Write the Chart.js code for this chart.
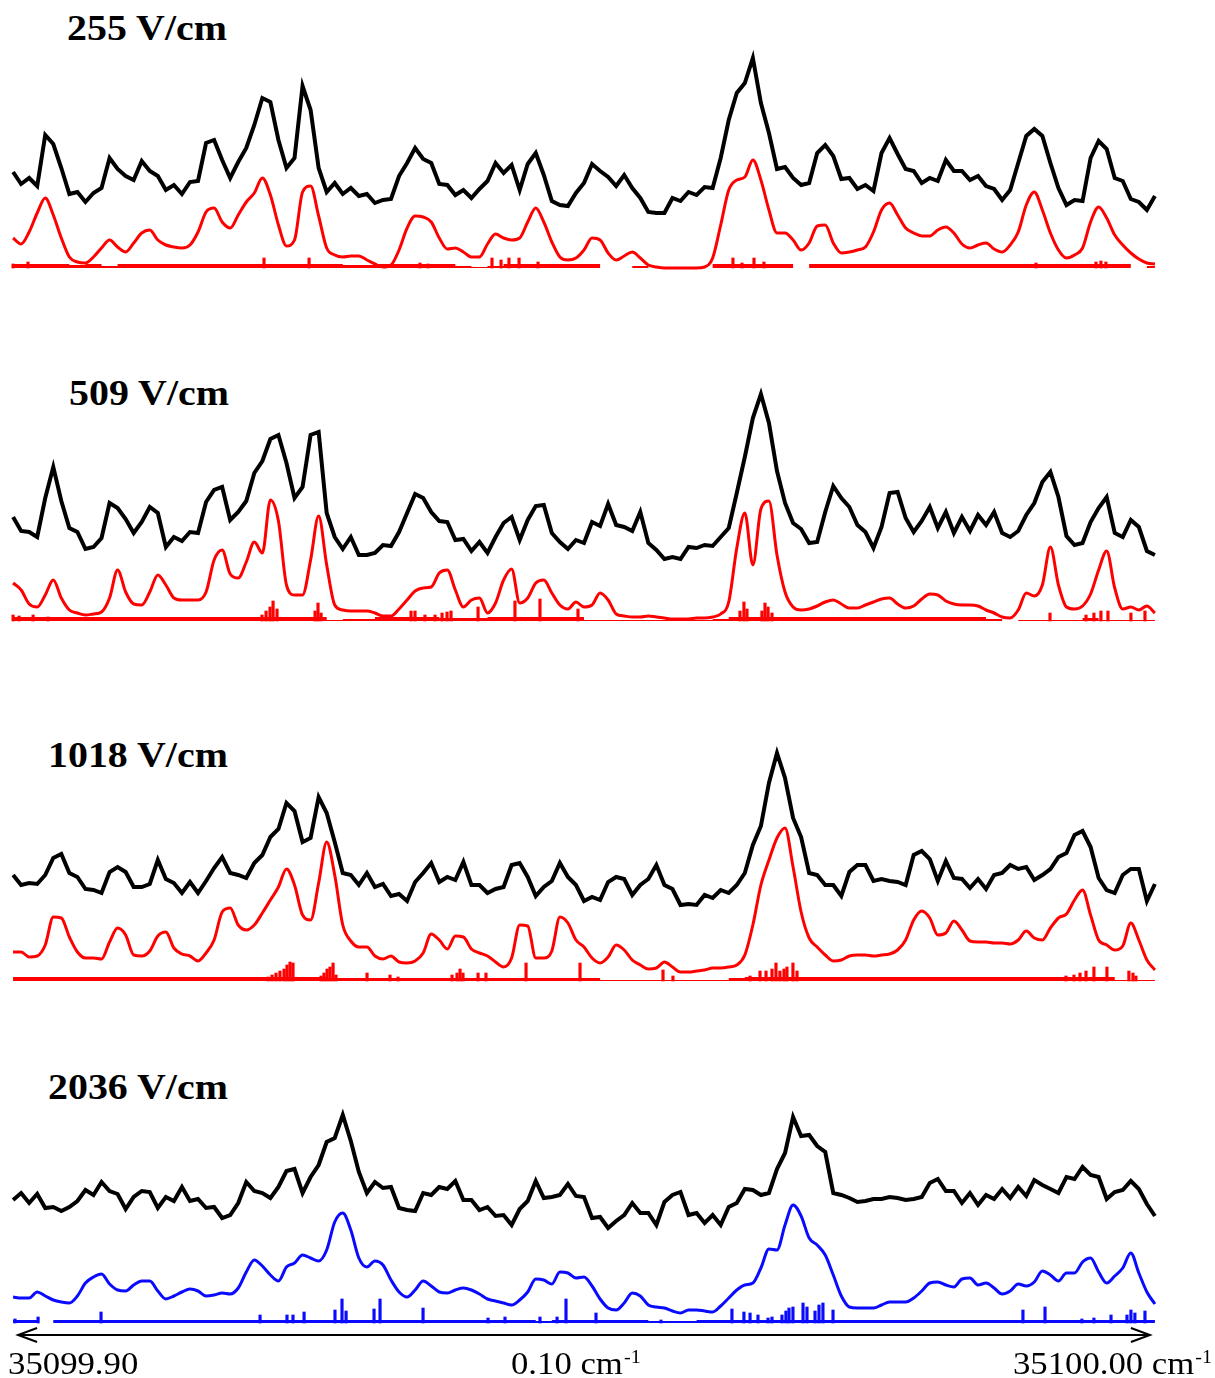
<!DOCTYPE html>
<html>
<head>
<meta charset="utf-8">
<script src="https://cdn.jsdelivr.net/npm/chart.js@4.4.1/dist/chart.umd.min.js"></script>
<style>
  html, body { margin: 0; padding: 0; background: #fff; }
  #page { position: relative; width: 1215px; height: 1378px; overflow: hidden; }
  canvas { position: absolute; left: 0; }
  .field {
    position: absolute;
    font: bold 35px "Liberation Serif", "Times New Roman", serif;
    line-height: 35px;
    transform: scaleX(1.14);
    transform-origin: left top;
    white-space: nowrap;
    color: #000;
  }
</style>
</head>
<body>
<div id="page">
  <div class="field" id="f1" style="left:67px; top:11px;"></div>
  <div class="field" id="f2" style="left:69px; top:376px;"></div>
  <div class="field" id="f3" style="left:48px; top:738px;"></div>
  <div class="field" id="f4" style="left:48px; top:1070px;"></div>
  <canvas id="p1" width="1215" height="250" style="top:28px"></canvas>
  <canvas id="p2" width="1215" height="250" style="top:381px"></canvas>
  <canvas id="p3" width="1215" height="250" style="top:741px"></canvas>
  <canvas id="p4" width="1215" height="295" style="top:1083px"></canvas>
</div>
<script>
// x is in units of 0.001 cm-1 above 35099.90 cm-1; the scans are evenly sampled
const scanStart = -0.44;
const scanEnd = 100.44;

const fieldLabels = ['255 V/cm', '509 V/cm', '1018 V/cm', '2036 V/cm'];
const axisLabels = ['35099.90', '0.10 cm', '35100.00 cm'];
const axisSup = '-1';

// 255 V/cm
const exp255 = [
  96,84,90,82,133,124,100,74,76,66,
  75,80,110,99,92,88,107,97,92,78,
  83,74,86,87,125,128,108,90,106,120,
  143,170,166,128,100,110,182,158,100,76,
  85,74,80,72,74,65,68,69,92,105,
  120,109,105,84,83,73,78,70,79,87,
  105,95,103,78,104,115,93,67,63,62,
  75,85,104,97,91,82,93,80,70,56,
  55,55,70,67,76,73,81,80,110,148,
  175,185,210,165,135,99,101,90,83,85,
  115,123,112,89,90,79,83,77,115,130,
  114,99,97,85,90,87,108,97,97,88,
  92,82,79,68,78,105,132,139,132,105,
  80,63,68,67,110,127,119,90,87,69,
  66,58,72
];
const sim255 = [
  30,24,36,55,70,53,30,11,6,5,
  11,20,28,21,16,25,35,38,28,23,
  21,20,23,36,56,60,46,40,53,66,
  75,90,73,43,22,28,76,82,52,20,
  13,11,12,12,8,4,1,3,18,40,
  52,51,46,30,19,20,16,11,11,24,
  34,30,28,30,46,60,46,26,11,8,
  10,18,30,28,15,8,12,16,10,3,
  1,0,0,0,0,0,1,10,43,78,
  88,91,108,88,58,35,35,28,18,25,
  42,43,25,15,16,18,21,36,58,65,
  53,40,35,32,32,38,41,35,24,20,
  23,25,19,16,23,36,63,76,58,35,
  18,10,13,20,46,61,50,33,23,15,
  9,5,4
];
const weak255 = [
  4,4,4,4,3,4,2,4,4,4,
  4,4,4,4,4,4,4,4,4,4,
  4,3,3,4,4,4,4,4,2,1,
  2,4,4,4,4,4,4,0,0,2,
  0,0,0,0,4,4,4,4,4,0,
  4,4,4,4,4,4,4,4,4,4,
  4,4,4,4,4,4,4,4,4,4,
  0,2
];
const linePos255 = [-0.44,0.88,21.73,25.71,35.51,36.22,41.87,42.67,43.37,44.26,45.94,63.16,63.96,65.02,65.90,89.93,95.23,95.67,96.11];
const lineInt255 = [4,6,10,10,5,4,10,8,10,10,6,10,5,10,6,5,6,7,6];

// 509 V/cm
const exp509 = [
  104,90,89,84,123,154,120,93,89,72,
  74,83,118,113,102,88,99,114,108,74,
  84,80,89,88,119,131,134,101,109,120,
  148,160,182,186,158,123,134,186,189,108,
  84,72,84,66,66,68,76,75,89,108,
  127,123,109,100,99,81,82,70,79,68,
  84,98,104,81,101,115,116,88,79,72,
  81,78,99,95,117,96,94,90,109,78,
  71,62,64,62,74,73,76,75,84,93,
  128,164,203,227,198,150,118,98,92,78,
  79,109,135,123,114,96,89,73,94,128,
  129,103,89,100,114,93,109,88,104,90,
  106,96,109,88,84,90,106,118,139,149,
  124,85,76,78,99,113,124,88,84,101,
  94,70,66
];
const sim509 = [
  38,31,17,14,26,41,23,11,8,6,
  7,9,23,51,29,17,16,29,46,36,
  23,21,21,21,29,61,71,47,43,59,
  79,68,121,100,36,26,26,61,105,56,
  16,11,10,10,10,8,5,5,12,21,
  30,33,34,48,51,31,14,21,23,8,
  18,41,52,18,23,38,41,28,16,12,
  19,14,16,28,21,7,5,4,4,5,
  4,3,2,2,2,3,3,4,7,19,
  73,108,56,112,120,66,29,14,11,12,
  15,19,21,17,13,13,16,19,22,23,
  17,13,15,22,27,26,20,17,16,16,
  15,11,8,4,3,11,28,25,36,74,
  36,14,12,15,27,51,70,33,12,14,
  11,15,8
];
const weak509 = [
  4,4,4,4,4,4,4,4,4,4,
  4,4,4,4,4,4,4,4,4,4,
  1,2,2,4,4,4,4,3,3,3,
  4,4,4,4,4,4,1,1,1,1,
  1,1,1,1,2,4,4,4,4,4,
  4,4,4,4,4,4,4,4,4,4,
  4,2,0,1,1,1,1,3,1,1,
  1,1
];
const linePos509 = [-0.44,0.09,1.33,2.65,21.55,21.91,22.26,22.53,22.88,26.24,26.50,26.77,34.72,35.07,35.95,36.84,37.46,37.90,38.25,40.64,43.90,46.11,49.47,63.78,64.13,64.40,65.72,65.99,66.26,66.61,91.17,94.35,95.05,95.67,96.29,98.32,99.56];
const lineInt509 = [6,5,6,4,6,10,14,20,12,10,18,8,10,10,6,6,8,9,10,14,20,22,12,10,19,12,10,18,14,8,8,6,8,10,10,8,10];

// 1018 V/cm
const exp1018 = [
  106,96,98,97,106,123,127,108,104,92,
  91,88,109,114,109,94,94,97,121,102,
  98,88,99,88,100,113,124,108,106,103,
  118,126,144,152,178,170,139,143,184,168,
  139,108,106,96,108,94,97,85,87,80,
  99,108,118,99,104,101,119,96,96,88,
  92,94,116,118,104,85,94,100,118,104,
  96,80,84,81,99,104,102,86,96,102,
  116,96,92,76,77,76,86,83,91,88,
  96,108,136,155,198,228,203,163,144,108,
  106,96,96,85,109,116,116,100,102,100,
  99,96,126,130,122,100,120,103,102,93,
  102,92,106,108,116,112,114,101,106,112,
  124,128,146,150,134,103,91,88,106,112,
  112,80,97
];
const sim1018 = [
  29,29,24,25,36,64,63,44,29,23,
  23,22,39,53,46,26,25,30,45,49,
  33,27,25,20,28,41,69,73,56,51,
  56,68,81,94,112,96,66,61,98,139,
  106,56,40,34,34,25,22,25,19,18,
  20,28,47,41,32,45,44,32,28,25,
  19,14,23,56,55,23,23,30,64,58,
  41,34,23,18,24,36,31,21,16,12,
  13,19,14,9,9,10,11,13,13,14,
  16,26,56,96,121,143,153,114,69,43,
  34,26,20,21,25,26,26,25,26,27,
  31,41,61,70,63,46,48,60,51,40,
  39,39,38,38,37,41,50,43,41,53,
  63,67,81,91,66,41,36,31,35,58,
  41,21,11
];
const weak1018 = [
  4,4,4,4,4,4,4,4,4,4,
  4,4,4,4,4,4,4,4,4,4,
  3,3,3,3,3,3,3,3,3,3,
  3,3,3,3,3,3,3,1,1,1,
  1,1,1,1,1,3,4,4,4,4,
  4,4,4,4,4,4,4,4,4,4,
  4,4,4,4,4,4,4,4,4,1,
  1,1
];
const linePos1018 = [22.09,22.44,22.79,23.14,23.50,23.76,24.03,24.29,26.77,27.03,27.30,27.56,27.83,28.09,30.83,32.86,33.57,38.34,38.78,39.05,39.31,40.64,41.34,44.88,49.65,56.98,57.86,64.67,65.55,66.08,66.61,66.96,67.31,67.67,67.93,68.46,68.82,92.58,93.29,93.82,94.35,95.05,96.20,98.14,98.50,98.76];
const lineInt1018 = [4,6,8,10,12,16,19,18,5,8,12,14,18,6,8,6,4,6,8,12,8,8,8,18,18,11,5,5,10,10,12,18,10,12,14,18,10,5,6,8,10,14,14,10,8,5];

// 2036 V/cm
const exp2036 = [
  123,130,120,129,115,116,112,116,122,133,
  128,141,132,129,114,126,132,131,115,126,
  122,136,122,124,115,116,105,108,120,141,
  132,130,125,136,152,154,130,146,158,181,
  185,208,182,151,130,141,135,136,115,113,
  112,130,128,136,134,142,123,123,113,116,
  107,108,98,114,122,142,125,126,128,139,
  127,126,105,106,95,102,108,120,110,110,
  98,121,128,131,108,110,100,108,98,116,
  120,134,133,128,130,154,170,206,187,188,
  177,171,130,128,125,121,122,124,124,126,
  125,123,124,126,140,144,132,132,120,130,
  118,128,124,134,125,136,127,143,138,134,
  130,146,144,156,148,146,124,131,133,142,
  134,119,107
];
const sim2036 = [
  26,25,25,31,27,23,21,20,27,40,
  46,49,39,33,32,38,42,42,32,24,
  27,31,34,32,27,28,30,29,35,51,
  63,57,48,42,56,60,68,65,62,73,
  101,110,93,65,56,62,58,43,31,26,
  33,42,37,31,30,33,35,33,29,24,
  22,20,18,23,31,44,43,39,51,50,
  45,46,37,24,15,13,20,30,27,18,
  16,15,12,10,13,13,12,11,17,25,
  33,38,40,55,74,73,98,118,107,85,
  78,68,48,27,16,15,15,15,18,21,
  21,21,25,32,40,41,38,36,44,45,
  38,40,35,29,32,39,37,41,52,48,
  42,50,50,61,65,51,40,47,55,70,
  50,31,19
];
const weak2036 = [
  3,3,0,3,3,3,3,3,3,3,
  3,3,3,3,3,3,3,3,3,3,
  3,3,3,3,3,3,3,3,3,3,
  3,3,3,2,3,3,3,3,3,3,
  2,2,2,3,3,3,3,3,3,3,
  3,3,3,3,3,3,3,3,3,3,
  3,3,3,3,3,3,3,3,3,3,
  3,3
];
const linePos2036 = [-0.27,1.77,7.33,21.38,23.76,24.29,25.27,28.00,28.62,28.98,31.45,31.98,35.78,41.52,43.02,46.11,47.62,48.41,51.06,56.80,63.07,64.13,64.67,65.37,66.26,66.61,67.49,67.84,68.11,68.46,69.35,69.70,70.41,70.76,71.11,72.00,88.78,90.73,93.99,95.05,96.56,97.97,98.32,98.67,99.56];
const lineInt2036 = [4,6,11,8,8,8,11,13,24,12,14,24,15,5,6,6,6,24,10,3,14,11,10,8,5,6,8,12,15,16,20,16,12,18,20,13,13,16,4,5,8,8,13,10,12];

const simRed = '#ff0000';
const simBlue = '#0a0aff';
const axisLevel = -12;

function onGrid(values) {
  const step = (scanEnd - scanStart) / (values.length - 1);
  return values.map((v, i) => ({ x: scanStart + i * step, y: v }));
}

function sticks(pos, ints) {
  return pos.map((p, i) => ({ x: p, y: ints[i] }));
}

function drawLabel(c, text, sup, x, y) {
  c.save();
  c.translate(x, y);
  c.scale(1.12, 1);
  c.font = '31px "Liberation Serif", "Times New Roman", serif';
  c.textBaseline = 'alphabetic';
  c.fillText(text, 0, 0);
  if (sup) {
    const w = c.measureText(text).width;
    c.font = '18px "Liberation Serif", "Times New Roman", serif';
    c.fillText(sup, w + 1, -11);
  }
  c.restore();
}

// double-headed arrow spanning the scan, with its wavenumber labels
const wavenumberAxis = {
  id: 'wavenumberAxis',
  afterDraw(chart) {
    const c = chart.ctx;
    const xs = chart.scales.x;
    const ys = chart.scales.y;
    const x0 = xs.getPixelForValue(0);
    const x1 = xs.getPixelForValue(100);
    const xm = xs.getPixelForValue(50);
    const y = ys.getPixelForValue(axisLevel);
    c.save();
    c.strokeStyle = '#000';
    c.lineWidth = 2;
    c.beginPath();
    c.moveTo(x0, y);
    c.lineTo(x1, y);
    c.moveTo(x0 + 19, y - 7);
    c.lineTo(x0, y);
    c.lineTo(x0 + 19, y + 7);
    c.moveTo(x1 - 19, y - 7);
    c.lineTo(x1, y);
    c.lineTo(x1 - 19, y + 7);
    c.stroke();
    c.fillStyle = '#000';
    drawLabel(c, axisLabels[0], '', x0 - 10, y + 39);
    drawLabel(c, axisLabels[1], axisSup, xm - 73, y + 39);
    drawLabel(c, axisLabels[2], axisSup, x1 - 137, y + 39);
    c.restore();
  }
};

function makePanel(id, exp, sim, weak, pos, ints, color, yMin, extra) {
  const ctx = document.getElementById(id).getContext('2d');
  return new Chart(ctx, {
    type: 'line',
    data: {
      datasets: [
        {
          data: onGrid(exp),
          borderColor: '#000',
          borderWidth: 4,
          borderJoinStyle: 'miter',
          pointRadius: 0,
          tension: 0,
          order: 1
        },
        {
          data: onGrid(sim),
          borderColor: color,
          borderWidth: 3,
          pointRadius: 0,
          cubicInterpolationMode: 'monotone',
          order: 2
        },
        {
          data: onGrid(weak),
          borderWidth: 0,
          borderColor: 'rgba(0,0,0,0)',
          backgroundColor: color,
          fill: 'origin',
          stepped: 'middle',
          pointRadius: 0,
          order: 3
        },
        {
          type: 'bar',
          data: sticks(pos, ints),
          backgroundColor: color,
          barThickness: 2.5,
          grouped: false,
          order: 4
        }
      ]
    },
    options: {
      responsive: false,
      animation: false,
      events: [],
      layout: { padding: { left: 9, right: 56, top: 0, bottom: 0 } },
      plugins: { legend: { display: false }, tooltip: { enabled: false } },
      scales: {
        x: { type: 'linear', min: -0.8, max: 100.8, display: false, offset: false },
        y: { min: yMin, max: 240, display: false }
      }
    },
    plugins: extra || []
  });
}

fieldLabels.forEach((t, i) => { document.getElementById('f' + (i + 1)).textContent = t; });

makePanel('p1', exp255, sim255, weak255, linePos255, lineInt255, simRed, -10);
makePanel('p2', exp509, sim509, weak509, linePos509, lineInt509, simRed, -10);
makePanel('p3', exp1018, sim1018, weak1018, linePos1018, lineInt1018, simRed, -10);
makePanel('p4', exp2036, sim2036, weak2036, linePos2036, lineInt2036, simBlue, -55, [wavenumberAxis]);
</script>
</body>
</html>
